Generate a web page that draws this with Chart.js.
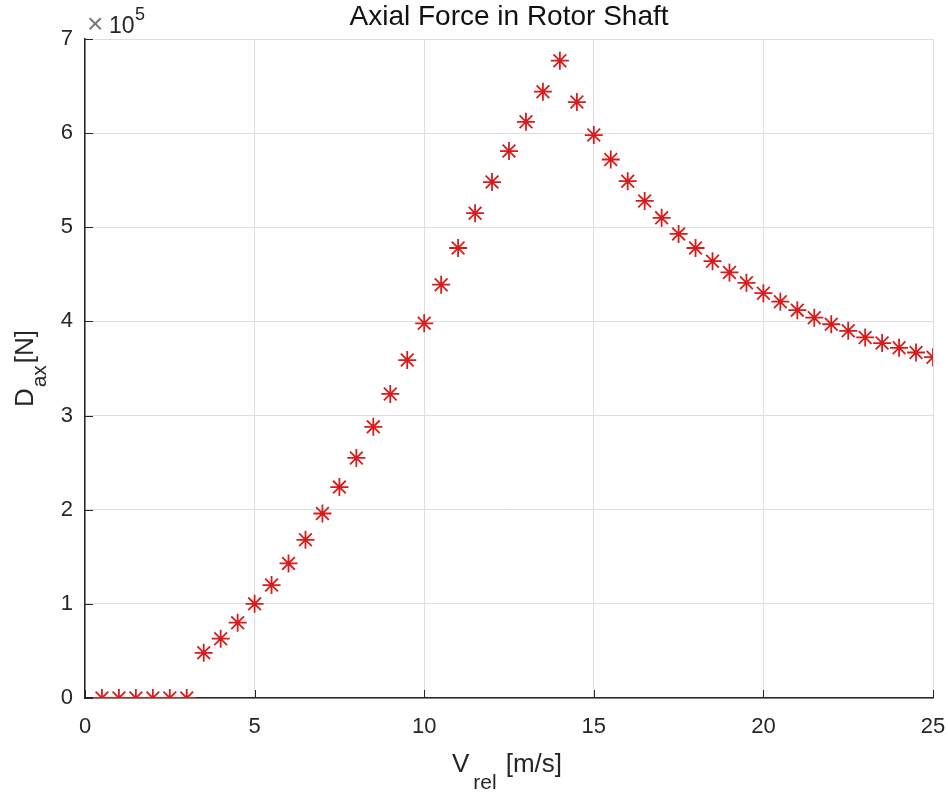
<!DOCTYPE html>
<html>
<head>
<meta charset="utf-8">
<script src="https://cdn.jsdelivr.net/npm/chart.js@4/dist/chart.umd.min.js"></script>
<style>
  html, body { margin: 0; padding: 0; background: #fff; }
  #wrap { width: 948px; height: 794px; }
</style>
</head>
<body>
<div id="wrap"><canvas id="axialChart" width="948" height="794"></canvas></div>
<script>
// 風速 [m/s]
const windSpeed = [
  0.5, 1, 1.5, 2, 2.5, 3, 3.5, 4, 4.5, 5,
  5.5, 6, 6.5, 7, 7.5, 8, 8.5, 9, 9.5, 10,
  10.5, 11, 11.5, 12, 12.5, 13, 13.5, 14, 14.5, 15,
  15.5, 16, 16.5, 17, 17.5, 18, 18.5, 19, 19.5, 20,
  20.5, 21, 21.5, 22, 22.5, 23, 23.5, 24, 24.5, 25
];
// 軸向力 (單位 x10^5 N)
const axialForce = [
  0, 0, 0, 0, 0, 0, 0.48, 0.63, 0.80, 1.00,
  1.20, 1.43, 1.68, 1.96, 2.24, 2.55, 2.88, 3.23, 3.59, 3.98,
  4.39, 4.78, 5.15, 5.48, 5.81, 6.12, 6.44, 6.77, 6.33, 5.98,
  5.72, 5.49, 5.28, 5.10, 4.93, 4.78, 4.64, 4.52, 4.41, 4.30,
  4.21, 4.12, 4.04, 3.97, 3.90, 3.83, 3.77, 3.72, 3.67, 3.62
];
const xTicks = [0, 5, 10, 15, 20, 25];
const yTicks = [0, 1, 2, 3, 4, 5, 6, 7];
const yScaleExp = 5;

const FONT = "'Liberation Sans', Arial, Helvetica, sans-serif";
const AXIS_COLOR = '#262626';
const GRID_COLOR = '#dedede';

// 依序畫出一段含下標的文字, parts: [文字, 字型, 下移量, 後方間距]
function drawParts(ctx, parts, cx, baseY) {
  let total = 0;
  parts.forEach(p => { ctx.font = p[1]; total += ctx.measureText(p[0]).width + p[3]; });
  let x = cx - total / 2;
  parts.forEach(p => {
    ctx.font = p[1];
    ctx.fillText(p[0], x, baseY + p[2]);
    x += ctx.measureText(p[0]).width + p[3];
  });
}

// 軸標題 (含下標)、指數與內向刻度
const matlabAxes = {
  id: 'matlabAxes',
  afterDraw(chart) {
    const ctx = chart.ctx;
    const a = chart.chartArea;
    const xs = chart.scales.x, ys = chart.scales.y;
    ctx.save();

    // 內向刻度
    ctx.strokeStyle = AXIS_COLOR;
    ctx.lineWidth = 1;
    ctx.beginPath();
    xTicks.forEach(v => {
      const px = Math.round(xs.getPixelForValue(v)) + 0.5;
      ctx.moveTo(px, a.bottom); ctx.lineTo(px, a.bottom - 8);
    });
    yTicks.forEach(v => {
      const py = Math.round(ys.getPixelForValue(v * 1e5)) + 0.5;
      ctx.moveTo(a.left, py); ctx.lineTo(a.left + 8, py);
    });
    ctx.stroke();

    ctx.textBaseline = 'alphabetic';
    ctx.textAlign = 'left';

    // x10^5
    ctx.fillStyle = '#777';
    ctx.font = '28px ' + FONT;
    ctx.fillText('\u00d7', a.left + 2, 33);
    ctx.fillStyle = AXIS_COLOR;
    ctx.font = '23px ' + FONT;
    ctx.fillText('10', a.left + 24, 33);
    ctx.font = '18px ' + FONT;
    ctx.fillText(String(yScaleExp), a.left + 50, 20);

    const big = '26px ' + FONT, small = '21px ' + FONT;
    // x 軸標題 V_rel [m/s]
    drawParts(ctx, [['V', big, 0, 4], ['rel', small, 17, 9], ['[m/s]', big, 0, 0]],
      (a.left + a.right) / 2 - 2, 772);

    // y 軸標題 D_ax[N]
    ctx.translate(33, (a.top + a.bottom) / 2);
    ctx.rotate(-Math.PI / 2);
    drawParts(ctx, [['D', big, 0, 1], ['ax', small, 13, 2], ['[N]', big, 0, 0]], 0, 0);
    ctx.restore();
  }
};

const ctx = document.getElementById('axialChart').getContext('2d');
const axialChart = new Chart(ctx, {
  type: 'scatter',
  data: {
    datasets: [{
      label: 'Axial force',
      data: windSpeed.map((v, i) => ({ x: v, y: axialForce[i] * Math.pow(10, yScaleExp) })),
      pointStyle: 'star',
      pointRadius: 9,
      pointHoverRadius: 9,
      borderWidth: 1.8,
      borderColor: '#d81c1c',
      backgroundColor: '#d81c1c'
    }]
  },
  options: {
    responsive: false,
    animation: false,
    layout: { padding: { left: 0, right: 15, top: 0, bottom: 0 } },
    plugins: {
      legend: { display: false },
      tooltip: { enabled: false },
      title: {
        display: true,
        fullSize: false,
        text: 'Axial Force in Rotor Shaft',
        color: '#111',
        font: { family: FONT, size: 28, weight: 'normal', lineHeight: 1.2 },
        padding: { top: 0, bottom: 5.4 }
      }
    },
    scales: {
      x: {
        type: 'linear',
        min: 0, max: 25,
        afterBuildTicks: s => { s.ticks = xTicks.map(v => ({ value: v })); },
        afterFit: s => { s.height = 96; s.paddingLeft = 0; s.paddingRight = 0; },
        grid: { color: GRID_COLOR, drawTicks: false },
        border: { color: AXIS_COLOR, width: 1.5 },
        ticks: {
          color: AXIS_COLOR, padding: 16, maxRotation: 0,
          font: { family: FONT, size: 22 }
        }
      },
      y: {
        type: 'linear',
        min: 0, max: 7e5,
        afterBuildTicks: s => { s.ticks = yTicks.map(v => ({ value: v * 1e5 })); },
        afterFit: s => { s.width = 85; s.paddingTop = 0; s.paddingBottom = 0; },
        grid: { color: GRID_COLOR, drawTicks: false },
        border: { color: AXIS_COLOR, width: 1.5 },
        ticks: {
          color: AXIS_COLOR, padding: 12,
          font: { family: FONT, size: 22 },
          callback: v => String(v / Math.pow(10, yScaleExp))
        }
      }
    }
  },
  plugins: [matlabAxes]
});
</script>
</body>
</html>
